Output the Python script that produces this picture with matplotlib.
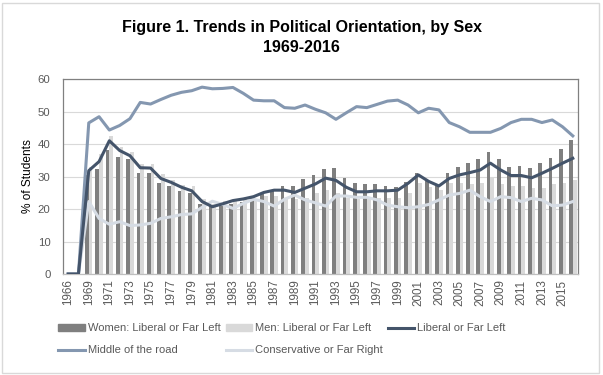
import numpy as np
import matplotlib
matplotlib.use('Agg')
import matplotlib.pyplot as plt
from matplotlib.patches import Patch, Rectangle
from matplotlib.lines import Line2D


# --- Data ---
years = ['1966', '1967'] + [str(y) for y in range(1969, 2017)]

women_liberal = [0, 0, 30.5, 32.3, 38.2, 36.1, 35.3, 31.0, 31.0, 28.1,
                 27.1, 25.6, 24.8, 21.5, 21.0, 21.7, 21.5, 22.3, 23.3, 24.8,
                 25.8, 27.1, 27.1, 29.1, 30.5, 32.3, 32.7, 29.4, 27.9, 27.6,
                 27.6, 27.2, 26.9, 28.4, 31.2, 28.7, 27.1, 31.2, 32.8, 34.3,
                 35.4, 37.6, 35.3, 33.0, 33.2, 32.5, 34.3, 35.8, 38.4, 41.2]

men_liberal = [0, 0, 33.0, 37.0, 42.5, 39.0, 37.5, 34.0, 33.7, 30.8,
               29.0, 27.5, 27.0, 23.0, 21.5, 22.5, 22.5, 23.0, 23.0, 24.0,
               24.0, 23.5, 23.0, 23.5, 25.0, 26.0, 25.0, 23.5, 23.0, 23.0,
               23.5, 23.5, 23.5, 25.0, 28.0, 26.9, 26.0, 27.9, 27.9, 27.8,
               27.9, 30.0, 27.7, 27.1, 27.1, 26.4, 26.4, 27.7, 27.9, 28.9]

liberal = [0, 0, 31.8, 34.6, 41.0, 38.0, 36.4, 32.7, 32.6, 29.4,
           28.2, 26.7, 25.6, 22.3, 20.7, 21.6, 22.6, 23.1, 23.8, 25.1,
           25.8, 25.8, 25.1, 26.4, 27.7, 29.5, 28.8, 26.7, 25.3, 25.3,
           25.6, 25.6, 25.8, 27.9, 30.5, 28.5, 27.1, 29.4, 30.5, 31.2,
           32.0, 34.1, 32.0, 30.3, 30.3, 29.6, 31.0, 32.5, 34.1, 35.6]

middle = [0, 0, 46.5, 48.4, 44.3, 45.7, 47.8, 52.8, 52.3, 53.7,
          55.0, 55.9, 56.4, 57.5, 57.0, 57.1, 57.4, 55.6, 53.5, 53.3,
          53.3, 51.2, 51.0, 52.0, 50.7, 49.6, 47.6, 49.6, 51.5, 51.2,
          52.2, 53.2, 53.5, 52.0, 49.6, 51.0, 50.5, 46.6, 45.3, 43.6,
          43.6, 43.6, 44.8, 46.6, 47.6, 47.6, 46.6, 47.4, 45.3, 42.5]

conservative = [0, 0, 22.3, 17.1, 15.3, 16.1, 14.9, 15.1, 15.6, 17.1,
                17.6, 18.3, 18.5, 20.5, 22.4, 21.4, 20.2, 21.7, 23.0, 22.3,
                20.9, 23.0, 24.3, 22.8, 21.9, 20.9, 24.0, 24.0, 23.6, 23.6,
                22.8, 21.2, 20.7, 20.4, 20.7, 21.4, 22.8, 24.3, 24.8, 25.8,
                23.8, 22.3, 23.8, 23.5, 22.3, 23.3, 22.8, 21.0, 21.2, 22.3]

plt.rcParams['font.family'] = ['Liberation Sans', 'DejaVu Sans']

TEXT = '#595959'
C_WOMEN, C_MEN = '#7F7F7F', '#D9D9D9'
C_LIB, C_MID, C_CON = '#44546A', '#8497B0', '#D6DCE4'

fig = plt.figure(figsize=(6.03, 3.75), dpi=100)
fig.patches.append(Rectangle((0.004, 0.006), 0.990, 0.986, transform=fig.transFigure,
                             fill=False, edgecolor='#D9D9D9', linewidth=1.0))
ax = fig.add_axes([0.1045, 0.2693, 0.854, 0.52])

x = np.arange(len(years))
w = 0.36
ax.bar(x - w / 2, women_liberal, width=w, color=C_WOMEN, zorder=2)
ax.bar(x + w / 2, men_liberal, width=w, color=C_MEN, zorder=2)
ax.plot(x, conservative, color=C_CON, lw=2.2, zorder=3, solid_joinstyle='round')
ax.plot(x, middle, color=C_MID, lw=2.2, zorder=3, solid_joinstyle='round')
ax.plot(x, liberal, color=C_LIB, lw=2.2, zorder=4, solid_joinstyle='round')

ax.set_xlim(-0.5, len(years) - 0.5)
ax.set_ylim(0, 60)
ax.set_yticks(range(0, 61, 10))
ax.set_xticks(x[::2])
ax.set_xticklabels(years[::2], rotation=90, fontsize=8.4, color=TEXT)
ax.tick_params(axis='y', labelsize=8.2, labelcolor=TEXT, length=0, pad=9)
ax.tick_params(axis='x', length=0, pad=4)
ax.grid(axis='y', color='#D9D9D9', lw=0.8, zorder=0)
ax.set_axisbelow(True)
for s in ax.spines.values():
    s.set_color('#808080')
    s.set_linewidth(0.9)
ax.spines['bottom'].set_color('#BFBFBF')

ax.set_ylabel('% of Students', fontsize=8.6, color='black', labelpad=3)

fig.text(0.5, 0.926, 'Figure 1. Trends in Political Orientation, by Sex',
         ha='center', va='center', fontsize=11.5, fontweight='bold')
fig.text(0.5, 0.872, '1969-2016', ha='center', va='center',
         fontsize=11.5, fontweight='bold')

# legend is column-major with ncol=3
handles = [Patch(color=C_WOMEN), Line2D([], [], color=C_MID, lw=2.2),
           Patch(color=C_MEN), Line2D([], [], color=C_CON, lw=2.2),
           Line2D([], [], color=C_LIB, lw=2.2)]
labels = ['Women: Liberal or Far Left', 'Middle of the road',
          'Men: Liberal or Far Left', 'Conservative or Far Right',
          'Liberal or Far Left']
fig.legend(handles, labels, loc='upper left', bbox_to_anchor=(0.097, 0.138),
           ncol=3, frameon=False, fontsize=8.0, handlelength=2.35,
           handletextpad=0.27, columnspacing=0.5, labelspacing=1.1,
           borderpad=0, borderaxespad=0, labelcolor=TEXT, handleheight=0.6)

fig.savefig('out.png', dpi=100)
